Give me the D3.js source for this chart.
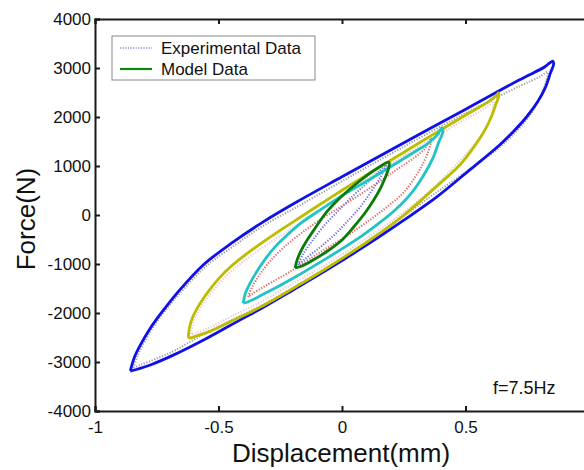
<!DOCTYPE html>
<html><head><meta charset="utf-8">
<script src="https://cdn.jsdelivr.net/npm/d3@7"></script>
<style>body{margin:0;background:#fff}svg{display:block}text{font-family:"Liberation Sans",Arial,Helvetica,sans-serif}</style>
</head><body><svg id="c" width="584" height="470"></svg>
<script>
// ---- data: [displacement (mm), force (N)] ----
const xTicks = [-1, -0.5, 0, 0.5];
const yTicks = [-4000, -3000, -2000, -1000, 0, 1000, 2000, 3000, 4000];
const legendLabels = ["Experimental Data", "Model Data"];
const freqLabel = "f=7.5Hz";

// model loops (upper branch, then lower branch back to start)
const blueModel = [[-0.857,-3180],[-0.840,-2900],[-0.816,-2650],[-0.784,-2370],[-0.747,-2100],[-0.707,-1840],[-0.667,-1590],[-0.562,-1020],[-0.440,-550],[-0.319,-140],[-0.182,270],[0,780],[0.234,1430],[0.501,2160],[0.719,2760],[0.820,3020],[0.840,3100],[0.853,3140],
  [0.857,3080],[0.844,2900],[0.824,2610],[0.792,2310],[0.747,2000],[0.699,1730],[0.638,1430],[0.517,920],[0.384,370],[0.246,-120],[0.113,-570],[-0.061,-1120],[-0.198,-1530],[-0.331,-1920],[-0.412,-2140],[-0.545,-2510],[-0.683,-2860],[-0.776,-3060],[-0.824,-3140],[-0.853,-3180],[-0.857,-3180]];
const yellowModel = [[-0.622,-2490],[-0.618,-2310],[-0.606,-2100],[-0.586,-1900],[-0.554,-1650],[-0.521,-1430],[-0.473,-1160],[-0.424,-940],[-0.319,-550],[-0.210,-180],[-0.048,350],[0.113,860],[0.234,1230],[0.368,1640],[0.501,2040],[0.598,2330],[0.626,2450],[0.634,2490],
  [0.634,2410],[0.622,2250],[0.606,2020],[0.578,1730],[0.537,1410],[0.477,1020],[0.384,590],[0.246,-20],[0.113,-510],[-0.048,-1040],[-0.182,-1450],[-0.331,-1880],[-0.453,-2180],[-0.533,-2370],[-0.590,-2470],[-0.618,-2510],[-0.622,-2490]];
const cyanModel = [[-0.400,-1800],[-0.392,-1610],[-0.372,-1390],[-0.343,-1140],[-0.311,-900],[-0.271,-650],[-0.222,-410],[-0.170,-180],[-0.089,100],[0.012,430],[0.113,730],[0.214,1040],[0.295,1290],[0.356,1490],[0.388,1650],[0.404,1780],
  [0.408,1690],[0.392,1490],[0.368,1160],[0.327,780],[0.275,410],[0.206,60],[0.141,-200],[0.073,-450],[-0.061,-880],[-0.198,-1290],[-0.331,-1650],[-0.384,-1780],[-0.400,-1800]];
const greenModel = [[-0.190,-1080],[-0.182,-920],[-0.166,-730],[-0.141,-510],[-0.109,-270],[-0.069,20],[-0.020,290],[0.032,530],[0.093,780],[0.145,960],[0.190,1080],
  [0.190,980],[0.178,800],[0.158,570],[0.129,310],[0.093,40],[0.048,-240],[0,-510],[-0.057,-730],[-0.117,-920],[-0.162,-1040],[-0.190,-1080]];

// experimental loops
const grayExp = [[-0.844,-3120],[-0.828,-2880],[-0.804,-2630],[-0.772,-2350],[-0.735,-2080],[-0.695,-1820],[-0.655,-1590],[-0.554,-1060],[-0.432,-610],[-0.319,-220],[-0.170,200],[0,690],[0.234,1350],[0.501,2080],[0.719,2630],[0.800,2820],[0.832,2920],
  [0.832,2860],[0.828,2760],[0.812,2510],[0.784,2220],[0.743,1920],[0.691,1630],[0.626,1330],[0.537,1000],[0.396,510],[0.246,-40],[0.113,-530],[-0.061,-1080],[-0.198,-1490],[-0.331,-1860],[-0.453,-2160],[-0.574,-2470],[-0.675,-2760],[-0.756,-2940],[-0.816,-3060],[-0.844,-3120]];
const pinkExp = [[-0.610,-2430],[-0.602,-2180],[-0.578,-1940],[-0.545,-1690],[-0.513,-1490],[-0.465,-1220],[-0.412,-1000],[-0.311,-630],[-0.202,-270],[-0.048,245],[0.113,780],[0.234,1160],[0.368,1570],[0.501,1960],[0.590,2220],[0.614,2350],
  [0.614,2290],[0.610,2140],[0.594,1900],[0.566,1630],[0.517,1330],[0.457,1000],[0.376,590],[0.246,40],[0.113,-430],[-0.048,-960],[-0.182,-1350],[-0.331,-1780],[-0.453,-2080],[-0.533,-2290],[-0.590,-2410],[-0.610,-2430]];
const redExp = [[-0.380,-1670],[-0.364,-1470],[-0.331,-1200],[-0.291,-940],[-0.238,-670],[-0.170,-390],[-0.089,-100],[0.012,220],[0.113,550],[0.214,900],[0.295,1180],[0.335,1350],[0.360,1570],
  [0.360,1490],[0.352,1330],[0.331,1080],[0.299,800],[0.251,470],[0.186,180],[0.113,-100],[0.012,-450],[-0.089,-760],[-0.198,-1120],[-0.311,-1450],[-0.364,-1610],[-0.380,-1670]];
const blueExp = [[-0.178,-1020],[-0.158,-800],[-0.121,-530],[-0.073,-220],[-0.016,80],[0.040,370],[0.097,630],[0.145,860],[0.178,1020],
  [0.154,760],[0.117,470],[0.073,160],[0.020,-140],[-0.036,-430],[-0.097,-690],[-0.150,-900],[-0.178,-1020]];

const expSeries = [
  {pts: grayExp, color: "#9a9a9a"},
  {pts: pinkExp, color: "#e6c6d2"},
  {pts: redExp, color: "#e06060"},
  {pts: blueExp, color: "#6a6ae0"}
];
const modelSeries = [
  {pts: blueModel, color: "#1010e8"},
  {pts: yellowModel, color: "#bdbd00"},
  {pts: cyanModel, color: "#20c4c4"},
  {pts: greenModel, color: "#0a7a0a"}
];

// ---- drawing ----
const svg = d3.select("#c");
const L = 95, R = 589, T = 19, B = 411;
const x = d3.scaleLinear().domain([-1, 1]).range([L, R]);
const y = d3.scaleLinear().domain([-4000, 4000]).range([B, T]);
const line = d3.line().x(d => x(d[0])).y(d => y(d[1])).curve(d3.curveCatmullRom.alpha(0.5));

const plot = svg.append("g");
expSeries.forEach(s => plot.append("path").attr("d", line(s.pts)).attr("fill", "none")
  .attr("stroke", s.color).attr("stroke-width", 2).attr("stroke-dasharray", "1.2,1.6"));
modelSeries.forEach(s => plot.append("path").attr("d", line(s.pts)).attr("fill", "none")
  .attr("stroke", s.color).attr("stroke-width", 2.8).attr("stroke-linejoin", "round"));

const axisColor = "#1a1a1a";
const fs = 17;
const fmt = d => String(d);
const gB = svg.append("g").attr("transform", `translate(0,${B})`)
  .call(d3.axisBottom(x).tickValues(xTicks).tickSize(-5).tickPadding(10).tickFormat(fmt));
const gT = svg.append("g").attr("transform", `translate(0,${T})`)
  .call(d3.axisTop(x).tickValues(xTicks).tickSize(-5).tickFormat(""));
const gL = svg.append("g").attr("transform", `translate(${L},0)`)
  .call(d3.axisLeft(y).tickValues(yTicks).tickSize(-5).tickPadding(4).tickFormat(fmt));
const gR = svg.append("g").attr("transform", `translate(${R},0)`)
  .call(d3.axisRight(y).tickValues(yTicks).tickSize(-5).tickFormat(""));
[gB, gT, gL, gR].forEach(g => {
  g.select(".domain").attr("stroke", axisColor).attr("stroke-width", 2);
  g.selectAll(".tick line").attr("stroke", axisColor).attr("stroke-width", 2);
  g.selectAll("text").attr("fill", "#111").style("font-size", fs + "px").style("font-family", '"Liberation Sans",Arial,sans-serif');
});
gR.selectAll(".tick line").attr("stroke", "#ccc");
gB.selectAll("text").attr("dy", "0.71em");

svg.append("text").attr("x", (L + R) / 2 - 1).attr("y", 462).attr("text-anchor", "middle")
  .style("font-size", "26px").attr("fill", "#111").text("Displacement(mm)");
svg.append("text").attr("transform", "translate(35,219) rotate(-90)").attr("text-anchor", "middle")
  .style("font-size", "26px").attr("fill", "#111").text("Force(N)");

svg.append("text").attr("x", 493).attr("y", 394).style("font-size", "18px").attr("fill", "#111").text(freqLabel);

const lg = svg.append("g");
lg.append("rect").attr("x", 112).attr("y", 36).attr("width", 203).attr("height", 44)
  .attr("fill", "#fff").attr("stroke", "#888").attr("stroke-width", 1);
lg.append("line").attr("x1", 120).attr("x2", 152).attr("y1", 48).attr("y2", 48)
  .attr("stroke", "#8c8cd8").attr("stroke-width", 1.6).attr("stroke-dasharray", "1.2,1.4");
lg.append("line").attr("x1", 120).attr("x2", 152).attr("y1", 69).attr("y2", 69)
  .attr("stroke", "#0a8a0a").attr("stroke-width", 2.2);
legendLabels.forEach((t, i) => lg.append("text").attr("x", 161).attr("y", 54 + i * 21)
  .style("font-size", "17px").attr("fill", "#111").text(t));
</script></body></html>
